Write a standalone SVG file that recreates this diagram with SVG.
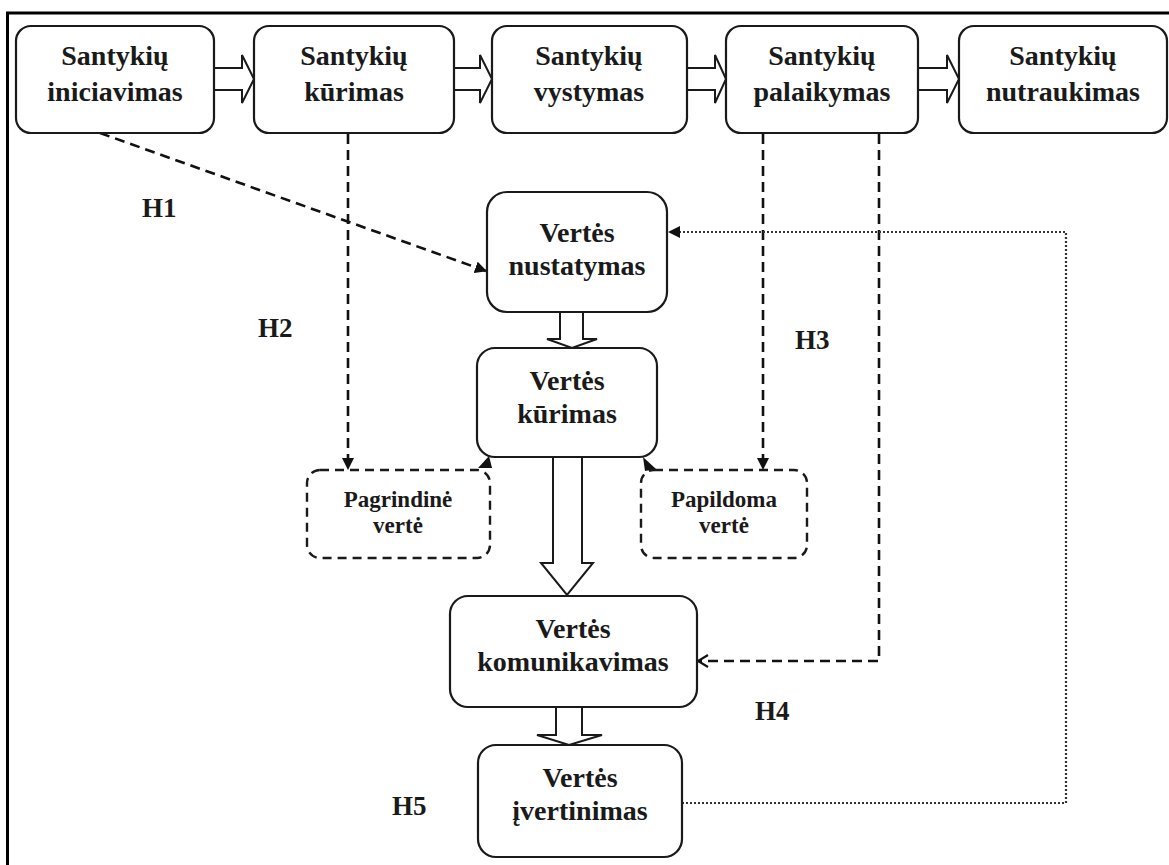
<svg xmlns="http://www.w3.org/2000/svg" width="1169" height="865" viewBox="0 0 1169 865">
  <defs>
    <style>
      .box { fill: #fff; stroke: #1a1a1a; stroke-width: 2.2; }
      .dbox { fill: #fff; stroke: #1a1a1a; stroke-width: 2.4; stroke-dasharray: 9 6; }
      .lbl { font-family: "Liberation Serif", "Times New Roman", serif; font-weight: bold; font-size: 28px; fill: #1a1a1a; text-anchor: middle; }
      .small { font-size: 23px; }
      .hyp { font-family: "Liberation Serif", "Times New Roman", serif; font-weight: bold; font-size: 27px; fill: #1a1a1a; }
      .blk { fill: #fff; stroke: #1a1a1a; stroke-width: 2; stroke-linejoin: miter; }
      .dash { fill: none; stroke: #111; stroke-width: 2.6; stroke-dasharray: 10 6; }
      .dot { fill: none; stroke: #333; stroke-width: 2.2; stroke-dasharray: 2 2; }
    </style>
    <marker id="tri" viewBox="0 0 12 12" refX="11" refY="6" markerWidth="12" markerHeight="12" markerUnits="userSpaceOnUse" orient="auto">
      <path d="M0,0 L12,6 L0,12 Z" fill="#111"/>
    </marker>
    <marker id="vee" viewBox="0 0 14 14" refX="12" refY="7" markerWidth="14" markerHeight="14" markerUnits="userSpaceOnUse" orient="auto">
      <path d="M2,1 L12,7 L2,13" fill="none" stroke="#111" stroke-width="2.2"/>
    </marker>
  </defs>

  <rect width="1169" height="865" fill="#fff"/>

  <!-- frame -->
  <path d="M7.5,865 V13 H1169" fill="none" stroke="#000" stroke-width="3"/>

  <!-- connectors -->
  <g id="connectors">
    <!-- block arrows along the top row -->
    <polygon class="blk" points="214,68 242,68 242,55 254,79 242,103 242,90 214,90"/>
    <polygon class="blk" points="454,68 480,68 480,55 492,79 480,103 480,90 454,90"/>
    <polygon class="blk" points="687,68 715,68 715,55 726,79 715,103 715,90 687,90"/>
    <polygon class="blk" points="918,68 947,68 947,55 959,79 947,103 947,90 918,90"/>

    <!-- vertical block arrows -->
    <polygon class="blk" points="560,312 560,339 547,339 572,348 597,339 583,339 583,312"/>
    <polygon class="blk" points="553,457 553,563 541,563 567,595 593,563 582,563 582,457"/>
    <polygon class="blk" points="556,707 556,735 537,735 569,745 602,735 582,735 582,707"/>

    <!-- H1 -->
    <path class="dash" d="M100,133 L486,271" marker-end="url(#tri)"/>
    <!-- H2 -->
    <path class="dash" d="M348,134 V469" marker-end="url(#tri)"/>
    <!-- H3 -->
    <path class="dash" d="M763,134 V469" marker-end="url(#tri)"/>
    <!-- H4 -->
    <path class="dash" d="M879,134 V661 H698" marker-end="url(#vee)"/>
    <!-- H5 feedback -->
    <path class="dot" d="M682,803 H1066 V232 H669" marker-end="url(#tri)"/>

    <!-- small heads at the corners of Vertės kūrimas -->
    <polygon points="478,468 492,468 489,456" fill="#111"/>
    <polygon points="643,457 645,471 656,469" fill="#111"/>
  </g>

  <!-- relationship stages -->
  <g id="n-iniciavimas">
    <rect class="box" x="16" y="26" width="198" height="107" rx="15"/>
    <text class="lbl" x="115" y="65">Santykių</text>
    <text class="lbl" x="115" y="101">iniciavimas</text>
  </g>
  <g id="n-kurimas">
    <rect class="box" x="254" y="26" width="200" height="107" rx="15"/>
    <text class="lbl" x="354" y="65">Santykių</text>
    <text class="lbl" x="354" y="101">kūrimas</text>
  </g>
  <g id="n-vystymas">
    <rect class="box" x="492" y="26" width="195" height="107" rx="15"/>
    <text class="lbl" x="589" y="65">Santykių</text>
    <text class="lbl" x="589" y="101">vystymas</text>
  </g>
  <g id="n-palaikymas">
    <rect class="box" x="726" y="26" width="192" height="107" rx="15"/>
    <text class="lbl" x="822" y="65">Santykių</text>
    <text class="lbl" x="822" y="101">palaikymas</text>
  </g>
  <g id="n-nutraukimas">
    <rect class="box" x="959" y="26" width="208" height="107" rx="15"/>
    <text class="lbl" x="1063" y="65">Santykių</text>
    <text class="lbl" x="1063" y="101">nutraukimas</text>
  </g>

  <!-- value process -->
  <g id="v-nustatymas">
    <rect class="box" x="487" y="192" width="180" height="120" rx="20"/>
    <text class="lbl" x="577" y="242">Vertės</text>
    <text class="lbl" x="577" y="275">nustatymas</text>
  </g>
  <g id="v-kurimas">
    <rect class="box" x="477" y="348" width="180" height="109" rx="18"/>
    <text class="lbl" x="567" y="390">Vertės</text>
    <text class="lbl" x="567" y="423">kūrimas</text>
  </g>
  <g id="v-pagrindine">
    <rect class="dbox" x="307" y="470" width="183" height="88" rx="13"/>
    <text class="lbl small" x="398" y="507">Pagrindinė</text>
    <text class="lbl small" x="398" y="533">vertė</text>
  </g>
  <g id="v-papildoma">
    <rect class="dbox" x="641" y="470" width="166" height="88" rx="13"/>
    <text class="lbl small" x="724" y="507">Papildoma</text>
    <text class="lbl small" x="724" y="533">vertė</text>
  </g>
  <g id="v-komunikavimas">
    <rect class="box" x="450" y="596" width="247" height="111" rx="18"/>
    <text class="lbl" x="573" y="638">Vertės</text>
    <text class="lbl" x="573" y="671">komunikavimas</text>
  </g>
  <g id="v-ivertinimas">
    <rect class="box" x="478" y="745" width="204" height="112" rx="18"/>
    <text class="lbl" x="580" y="787">Vertės</text>
    <text class="lbl" x="580" y="820">įvertinimas</text>
  </g>

  <!-- hypothesis labels -->
  <g id="hypotheses">
    <text class="hyp" x="142" y="217">H1</text>
    <text class="hyp" x="258" y="337">H2</text>
    <text class="hyp" x="795" y="349">H3</text>
    <text class="hyp" x="755" y="720">H4</text>
    <text class="hyp" x="392" y="815">H5</text>
  </g>
</svg>
